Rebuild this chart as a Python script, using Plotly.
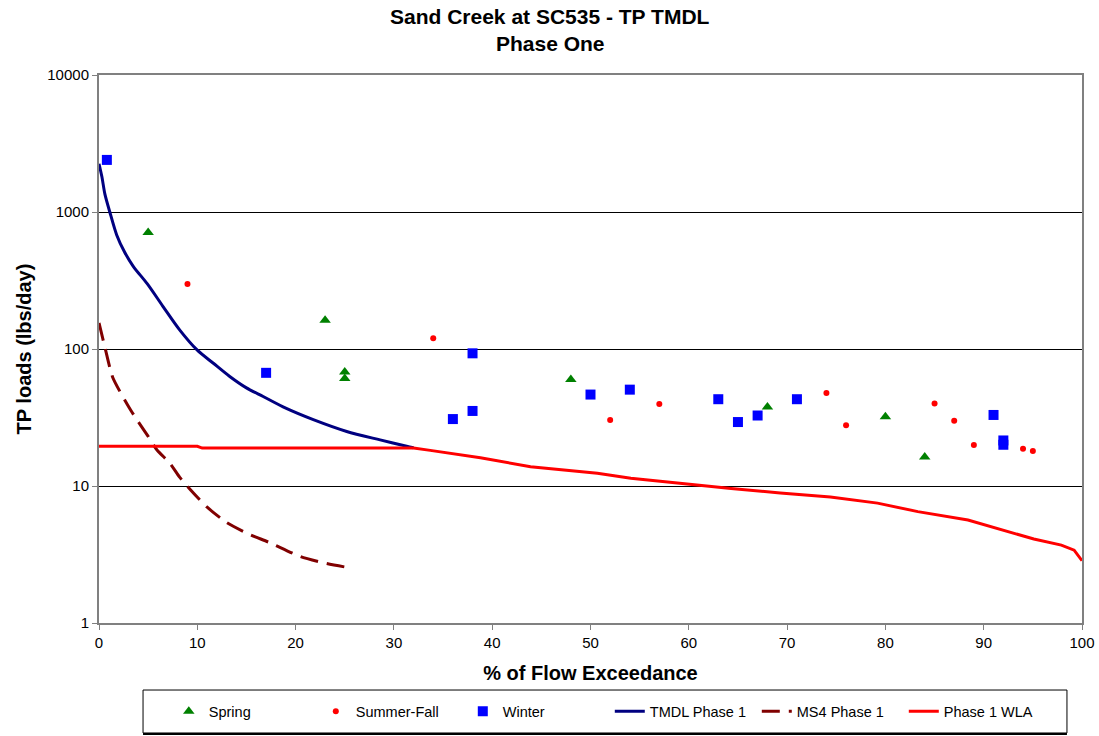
import plotly.graph_objects as go

# Seasonal TP load samples (% flow exceedance, lbs/day)
spring_x = [5, 23, 25, 25, 48, 68, 80, 84]
spring_y = [710, 162, 68, 61, 60, 37.7, 32, 16.3]

summer_x = [9, 34, 52, 57, 74, 76, 85, 87, 89, 94, 95]
summer_y = [298, 120, 30.3, 39.6, 47.7, 27.8, 40, 30, 19.9, 18.7, 18.0]

winter_x = [0.8, 17, 36, 38, 38, 50, 54, 63, 65, 67, 71, 91, 92, 92]
winter_y = [2400, 67, 30.8, 35.3, 93, 46.5, 50.5, 43, 29.3, 32.7, 43, 33, 21.5, 20]

# Load duration curves
tmdl_x = [0, 0.3, 0.6, 1.1, 1.8, 2.6, 3.5, 4.9, 6.5, 8.2, 10, 11.6, 13.3, 15,
          16.7, 19, 21.8, 25.2, 28.6, 31.3, 32]
tmdl_y = [2250, 1800, 1350, 1000, 680, 510, 400, 300, 205, 138, 98, 79, 63, 52,
          45, 37, 30.5, 25, 21.7, 19.5, 19]

ms4_x = [0, 0.6, 1.4, 3.2, 5.0, 5.9, 7.2, 8.2, 9.3, 11, 13, 15.1, 17.4, 20.5, 22.8, 25.2]
ms4_y = [155, 103, 62, 36, 23, 18.3, 14.7, 11.6, 9.4, 7.0, 5.4, 4.5, 3.85, 3.05, 2.75, 2.55]

wla_x = [0, 10, 10.5, 32, 33.7, 38.8, 43.9, 50.7, 54.1, 59.2, 64.3, 69.3, 74.4,
         79.2, 83.3, 88.4, 91.8, 95.1, 97.9, 99.2, 100]
wla_y = [19.5, 19.5, 18.9, 18.9, 18.2, 16.1, 13.8, 12.4, 11.4, 10.4, 9.6, 8.9, 8.3,
         7.5, 6.5, 5.65, 4.8, 4.1, 3.7, 3.4, 2.85]

x_ticks = list(range(0, 101, 10))
y_ticks = [1, 10, 100, 1000, 10000]
y_tick_text = ["1", "10", "100", "1000", "10000"]

title_lines = ["Sand Creek at SC535 - TP TMDL", "Phase One"]

FONT = "Arial, Liberation Sans, sans-serif"

fig = go.Figure()

fig.add_trace(go.Scatter(x=spring_x, y=spring_y, mode="markers", name="Spring",
                         marker=dict(symbol="triangle-up", size=10, color="#008000")))
fig.add_trace(go.Scatter(x=summer_x, y=summer_y, mode="markers", name="Summer-Fall",
                         marker=dict(symbol="circle", size=6, color="#ff0000")))
fig.add_trace(go.Scatter(x=winter_x, y=winter_y, mode="markers", name="Winter",
                         marker=dict(symbol="square", size=10, color="#0000ff")))
fig.add_trace(go.Scatter(x=tmdl_x, y=tmdl_y, mode="lines", name="TMDL Phase 1",
                         line=dict(color="#000080", width=3, shape="spline", smoothing=0.8)))
fig.add_trace(go.Scatter(x=ms4_x, y=ms4_y, mode="lines", name="MS4 Phase 1",
                         line=dict(color="#800000", width=3, dash="18px,9px",
                                   shape="spline", smoothing=0.6)))
fig.add_trace(go.Scatter(x=wla_x, y=wla_y, mode="lines", name="Phase 1 WLA",
                         line=dict(color="#ff0000", width=3)))

# Two-line bold title centred on the page
title_annotations = [
    dict(text=f"<b>{t}</b>", xref="paper", yref="paper", x=0.459, y=yy,
         xanchor="center", yanchor="middle", showarrow=False,
         font=dict(family=FONT, size=21, color="black"))
    for t, yy in zip(title_lines, [1.106, 1.0566])
]

fig.update_layout(
    width=1099, height=736,
    margin=dict(l=99, r=17, t=75, b=113, autoexpand=False),
    paper_bgcolor="white", plot_bgcolor="white",
    font=dict(family=FONT, size=15, color="black"),
    annotations=title_annotations,
    showlegend=True,
    legend=dict(orientation="h", x=0.071, xanchor="left", y=-0.161, yanchor="middle",
                bgcolor="rgba(0,0,0,0)", borderwidth=0,
                entrywidth=102, entrywidthmode="pixels",
                font=dict(family=FONT, size=14.5, color="black"),
                traceorder="normal"),
    shapes=[
        dict(type="rect", xref="paper", yref="paper",
             x0=0.0448, x1=0.9847, y0=-0.2007, y1=-0.1223,
             line=dict(color="black", width=1), fillcolor="white", layer="below"),
        dict(type="line", xref="paper", yref="paper",
             x0=0.0448, x1=0.9847, y0=-0.2025, y1=-0.2025,
             line=dict(color="black", width=2)),
    ],
)

fig.update_xaxes(
    range=[0, 100], tickvals=x_ticks, ticks="outside", ticklen=5,
    tickcolor="#808080", showgrid=False, zeroline=False,
    showline=True, linecolor="#808080", linewidth=2, mirror=True,
    title=dict(text="<b>% of Flow Exceedance</b>", font=dict(family=FONT, size=20),
               standoff=16),
    tickfont=dict(family=FONT, size=15),
)
fig.update_yaxes(
    type="log", range=[0, 4], tickvals=y_ticks, ticktext=y_tick_text,
    ticks="outside", ticklen=5, tickcolor="#808080",
    showgrid=True, gridcolor="black", gridwidth=1, zeroline=False,
    showline=True, linecolor="#808080", linewidth=2, mirror=True,
    title=dict(text="<b>TP loads (lbs/day)</b>", font=dict(family=FONT, size=20),
               standoff=10),
    tickfont=dict(family=FONT, size=15),
)

fig.write_html("out.html")
